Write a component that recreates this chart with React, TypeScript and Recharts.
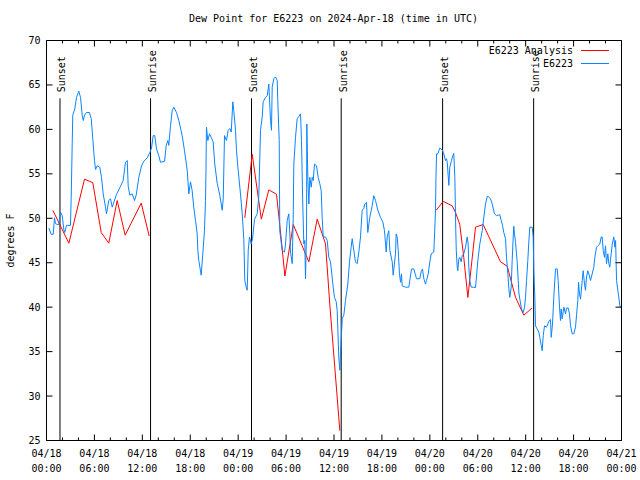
import React from "react";
import { LineChart, Line, XAxis, YAxis, ReferenceLine, Legend } from "recharts";

// hours since 04/18 00:00 UTC
const obsHours = [
  0.29, 0.59, 0.84, 1.0, 1.13, 1.34, 1.54, 1.75, 1.97, 2.17, 2.29, 2.5, 3.0, 3.09, 3.22, 3.29, 3.54, 3.76, 4.04, 4.26,
  4.47, 4.6, 4.76, 5.01, 5.38, 5.6, 5.8, 6.01, 6.14, 6.35, 6.67, 6.89, 7.1, 7.39, 7.51, 7.8, 8.01, 8.23, 8.43, 8.77,
  9.27, 9.6, 9.89, 10.11, 10.23, 10.43, 10.73, 11.02, 11.23, 11.56, 11.9, 12.18, 12.61, 12.94, 13.15, 13.36, 13.56, 13.77, 14.06, 14.27,
  14.78, 14.99, 15.19, 15.31, 15.53, 15.74, 15.94, 16.28, 16.57, 16.99, 17.28, 17.62, 17.82, 18.03, 18.24, 18.44, 18.66, 18.87, 18.95, 19.07,
  19.28, 19.37, 19.57, 19.78, 19.91, 19.97, 20.03, 20.2, 20.41, 20.62, 20.87, 21.07, 21.38, 21.7, 22.0, 22.13, 22.29, 22.54, 22.75, 22.95,
  23.13, 23.33, 23.45, 23.67, 23.79, 24.0, 24.29, 24.51, 24.71, 24.83, 25.01, 25.13, 25.26, 25.42, 25.63, 25.8, 26.05, 26.38, 26.58, 26.8,
  27.01, 27.13, 27.42, 27.64, 27.84, 28.05, 28.17, 28.26, 28.46, 28.68, 28.89, 28.96, 29.14, 29.21, 29.51, 29.8, 29.93, 30.14, 30.34, 30.47,
  30.55, 30.77, 30.89, 30.97, 31.18, 31.39, 31.59, 31.81, 31.93, 32.09, 32.22, 32.34, 32.43, 32.56, 32.6, 32.65, 32.73, 32.85, 32.97, 33.15,
  33.27, 33.4, 33.56, 33.81, 34.02, 34.22, 34.4, 34.52, 34.65, 34.94, 35.15, 35.35, 35.56, 35.9, 36.06, 36.28, 36.4, 36.6, 36.73, 36.85,
  36.94, 37.03, 37.23, 37.44, 37.73, 37.94, 38.15, 38.28, 38.48, 38.69, 38.9, 39.11, 39.32, 39.53, 39.73, 39.86, 40.07, 40.23, 40.48, 40.78,
  40.98, 41.2, 41.49, 41.82, 42.11, 42.32, 42.54, 42.66, 42.86, 42.99, 43.29, 43.41, 43.49, 43.7, 43.79, 43.91, 44.04, 44.2, 44.33, 44.45,
  44.54, 44.95, 45.37, 45.49, 45.71, 45.99, 46.21, 46.33, 46.74, 46.92, 47.08, 47.25, 47.46, 47.58, 47.8, 48.0, 48.17, 48.5, 48.62, 48.71,
  48.77, 48.84, 49.0, 49.25, 49.55, 49.75, 49.96, 50.09, 50.18, 50.25, 50.38, 50.5, 50.71, 50.88, 51.0, 51.13, 51.25, 51.31, 51.43, 51.5,
  51.63, 51.75, 51.93, 52.05, 52.25, 52.47, 52.68, 52.8, 52.88, 53.0, 53.18, 53.43, 53.72, 53.84, 54.01, 54.26, 54.56, 54.76, 54.97, 55.19,
  55.31, 55.6, 55.81, 56.1, 56.35, 56.76, 56.94, 57.1, 57.26, 57.48, 57.6, 57.77, 57.89, 58.01, 58.19, 58.31, 58.44, 58.51, 58.6, 58.73,
  58.85, 58.94, 59.07, 59.14, 59.27, 59.44, 59.57, 59.69, 59.86, 59.98, 60.11, 60.27, 60.39, 60.52, 60.82, 60.94, 61.02, 61.15, 61.23, 61.44,
  61.65, 61.77, 61.95, 62.07, 62.2, 62.36, 62.61, 62.77, 62.95, 63.11, 63.2, 63.36, 63.52, 63.74, 63.95, 64.07, 64.24, 64.36, 64.45, 64.57,
  64.78, 64.99, 65.11, 65.33, 65.49, 65.62, 65.83, 66.03, 66.24, 66.37, 66.53, 66.62, 66.74, 66.87, 67.08, 67.2, 67.37, 67.49, 67.62, 67.78,
  67.96, 68.12, 68.33, 68.53, 68.66, 68.87, 69.03, 69.28, 69.46, 69.58, 69.71, 69.87, 70.0, 70.12, 70.29, 70.41, 70.54, 70.63, 70.84, 71.04,
  71.17, 71.26, 71.38, 71.54, 71.66, 71.79, 71.87,
];
const obsDew = [
  48.9, 48.2, 48.2, 50.05, 49.4, 49.3, 49.3, 50.7, 50.3, 48.7, 48.4, 49.2, 49.2, 52.2, 58.4, 61.6, 62.3, 63.6, 64.3, 63.6,
  61.6, 61.0, 61.6, 61.9, 61.9, 61.2, 58.9, 56.5, 55.5, 55.9, 55.75, 54.6, 52.75, 51.25, 50.5, 52.0, 52.2, 51.25, 51.8, 52.7,
  53.6, 54.25, 56.3, 56.5, 53.6, 52.6, 52.75, 52.0, 52.6, 54.6, 55.9, 56.4, 56.8, 57.4, 57.9, 59.3, 59.3, 57.8, 57.05, 56.3,
  56.4, 58.2, 58.75, 58.2, 60.4, 62.1, 62.5, 61.9, 61.0, 59.3, 57.6, 55.4, 52.75, 54.1, 53.1, 51.25, 49.75, 48.25, 46.4, 45.25,
  44.1, 43.6, 46.0, 48.6, 52.0, 55.4, 60.25, 58.75, 59.5, 59.1, 58.6, 56.1, 53.9, 52.6, 50.9, 52.2, 59.3, 58.75, 59.9, 60.1,
  59.7, 63.1, 62.1, 59.9, 57.6, 55.4, 52.75, 50.5, 47.6, 43.0, 42.25, 41.9, 46.4, 47.9, 47.1, 47.7, 49.9, 50.5, 52.4, 59.9,
  61.4, 63.1, 63.6, 63.8, 65.1, 61.0, 59.9, 64.75, 65.7, 65.9, 65.5, 63.25, 58.75, 48.6, 46.4, 46.2, 47.1, 49.75, 50.5, 48.25,
  46.2, 44.9, 50.0, 56.1, 59.1, 61.2, 61.45, 61.75, 58.75, 51.6, 47.1, 47.5, 43.2, 48.25, 60.6, 58.0, 54.25, 51.6, 54.6, 53.5,
  54.6, 54.25, 56.1, 55.9, 54.6, 53.9, 53.1, 50.1, 47.9, 47.9, 47.5, 45.6, 45.1, 42.25, 41.1, 40.6, 39.6, 34.4, 32.9, 35.5,
  37.0, 38.7, 39.1, 40.75, 42.6, 45.1, 46.75, 47.7, 46.4, 45.1, 44.9, 46.2, 47.9, 50.9, 51.1, 51.6, 51.8, 48.4, 50.1, 51.4,
  52.55, 52.0, 50.9, 50.1, 49.6, 48.6, 46.2, 47.9, 48.6, 46.4, 45.1, 43.6, 44.3, 46.0, 48.25, 47.9, 46.4, 43.75, 42.8, 43.75,
  42.4, 42.25, 42.25, 43.0, 44.3, 44.3, 43.6, 43.2, 43.2, 44.0, 44.3, 43.2, 42.6, 43.0, 43.75, 45.1, 46.0, 46.2, 48.8, 50.9,
  54.6, 57.25, 57.25, 57.9, 57.7, 57.25, 56.5, 56.7, 56.3, 55.4, 53.7, 55.75, 56.5, 57.05, 57.3, 54.6, 48.6, 46.4, 44.5, 44.1,
  45.4, 45.6, 45.1, 45.8, 46.0, 46.75, 47.9, 47.1, 44.5, 43.0, 42.25, 42.25, 42.2, 43.4, 45.25, 47.1, 48.6, 50.1, 51.6, 52.45,
  52.45, 52.2, 51.6, 50.5, 50.3, 50.4, 49.75, 49.2, 48.4, 47.7, 45.6, 43.75, 42.1, 41.1, 42.25, 45.25, 47.9, 49.1, 48.25, 47.3,
  46.0, 45.1, 43.0, 41.7, 40.9, 40.0, 39.6, 39.4, 40.0, 41.1, 43.0, 45.25, 47.3, 49.0, 49.0, 47.9, 44.0, 41.1, 37.9, 37.55,
  37.2, 36.6, 35.7, 35.1, 36.8, 37.9, 37.75, 38.1, 38.5, 38.6, 36.6, 38.1, 41.1, 44.3, 44.3, 43.0, 40.0, 38.5, 39.8, 38.7,
  40.0, 39.25, 39.9, 39.9, 39.25, 37.9, 37.0, 37.0, 37.75, 39.1, 40.75, 42.8, 41.5, 40.9, 43.0, 44.1, 42.6, 41.9, 43.4, 44.1,
  43.6, 43.0, 43.75, 44.5, 45.6, 46.75, 46.9, 47.1, 47.9, 47.9, 46.4, 45.6, 46.9, 44.9, 46.0, 44.9, 44.5, 45.4, 47.1, 47.9,
  46.75, 47.5, 43.0, 41.9, 41.1, 40.2, 40.0,
];

const anaHours = [
  0.79, 2.8, 4.76, 5.8, 6.85, 7.8, 8.85, 9.85, 11.86, 12.86, 18,
  24.83, 25.76, 26.9, 27.84, 28.8, 29.4, 29.85, 30.9, 32.85, 33.9, 34.94, 35.5, 36.73, 42,
  48.8, 49.67, 50.8, 51.2, 51.75, 52.25, 52.76, 53.18, 53.72, 54.68, 56.85, 57.7, 57.9, 58.73, 59.77, 60.8,
];
const anaDew = [
  50.9, 47.2, 54.4, 54.0, 48.4, 47.2, 52.0, 48.1, 51.7, 48.0, null,
  50.05, 57.2, 49.9, 53.2, 52.7, 47.6, 43.5, 49.3, 45.1, 49.9, 47.1, 40.0, 26.1, null,
  50.9, 51.9, 51.4, 50.7, 49.3, 45.6, 41.1, 44.5, 49.0, 49.3, 45.1, 44.6, 43.9, 41.1, 39.1, 39.9,
];

const sunHours = [1.69, 13.03, 25.67, 36.9, 49.6, 61.0];
const sunEvents = ["Sunset", "Sunrise", "Sunset", "Sunrise", "Sunset", "Sunrise"];

const seriesNames = ["E6223 Analysis", "E6223"];

const xTicks = Array.from({ length: 37 }, (_, i) => i * 2);
const tickDates = ["04/18", "04/18", "04/18", "04/18", "04/19", "04/19", "04/19", "04/19", "04/20", "04/20", "04/20", "04/20", "04/21"];
const tickTimes = ["00:00", "06:00", "12:00", "18:00", "00:00", "06:00", "12:00", "18:00", "00:00", "06:00", "12:00", "18:00", "00:00"];
const yTicks = [25, 30, 35, 40, 45, 50, 55, 60, 65, 70];

const FONT = "'DejaVu Sans Mono', monospace";
const RED = "#ff0000";
const BLUE = "#0a84ff";

const obsData = obsHours.map((t, i) => ({ t, v: obsDew[i] }));
const anaData = anaHours.map((t, i) => ({ t, v: anaDew[i] }));

function BottomTick({ x, y, payload }: any) {
  const t = payload.value;
  const major = t % 6 === 0;
  const i = t / 6;
  return (
    <g>
      <line x1={x} x2={x} y1={y} y2={y - (major ? 6 : 3)} stroke="#000" />
      {major && (
        <text x={x} y={y + 16.5} textAnchor="middle" fontSize={10} fontFamily={FONT} fill="#000">
          {tickDates[i]}
        </text>
      )}
      {major && (
        <text x={x} y={y + 31.5} textAnchor="middle" fontSize={10} fontFamily={FONT} fill="#000">
          {tickTimes[i]}
        </text>
      )}
    </g>
  );
}

function TopTick({ x, y, payload }: any) {
  const major = payload.value % 6 === 0;
  return <line x1={x} x2={x} y1={y} y2={y + (major ? 6 : 3)} stroke="#000" />;
}

function LeftTick({ x, y, payload }: any) {
  return (
    <g>
      <line x1={x} x2={x + 6} y1={y} y2={y} stroke="#000" />
      <text x={x - 6} y={y} textAnchor="end" dominantBaseline="central" fontSize={10} fontFamily={FONT} fill="#000">
        {payload.value}
      </text>
    </g>
  );
}

function RightTick({ x, y }: any) {
  return <line x1={x} x2={x - 6} y1={y} y2={y} stroke="#000" />;
}

function sunLabel(text: string) {
  return (props: any) => {
    const vb = props.viewBox || {};
    const lx = vb.x + 2;
    const ly = vb.y - 6;
    return (
      <text
        x={lx}
        y={ly}
        transform={`rotate(-90 ${lx} ${ly})`}
        textAnchor="start"
        dominantBaseline="central"
        fontSize={10}
        fontFamily={FONT}
        fill="#000"
      >
        {text}
      </text>
    );
  };
}

function renderLegend(props: any) {
  const items = [...(props.payload || [])].sort(
    (a: any, b: any) => seriesNames.indexOf(a.value) - seriesNames.indexOf(b.value)
  );
  return (
    <svg width={160} height={28}>
      {items.map((it: any, i: number) => (
        <g key={i}>
          <text x={122} y={7 + i * 13} textAnchor="end" dominantBaseline="central" fontSize={10} fontFamily={FONT} fill="#000">
            {it.value}
          </text>
          <line x1={130} x2={158} y1={7.5 + i * 13} y2={7.5 + i * 13} stroke={it.color} strokeWidth={1} />
        </g>
      ))}
    </svg>
  );
}

export default function App() {
  return (
    <div style={{ position: "absolute", left: 0, top: 0, width: 640, height: 480, background: "#fff" }}>
      <div
        style={{
          position: "absolute",
          left: 46,
          top: 13,
          width: 575,
          height: 12,
          lineHeight: "12px",
          textAlign: "center",
          fontFamily: FONT,
          fontSize: 10,
          color: "#000",
          whiteSpace: "pre",
        }}
      >
        Dew Point for E6223 on 2024-Apr-18 (time in UTC)
      </div>
      <LineChart width={640} height={480} margin={{ top: 0, right: 0, bottom: 0, left: 0 }}>
        <XAxis
          dataKey="t"
          type="number"
          domain={[0, 72]}
          ticks={xTicks}
          interval={0}
          allowDataOverflow
          height={39.5}
          tickSize={0}
          tickMargin={0}
          tickLine={false}
          axisLine={{ stroke: "#000" }}
          tick={<BottomTick />}
        />
        <XAxis
          xAxisId="top"
          orientation="top"
          dataKey="t"
          type="number"
          domain={[0, 72]}
          ticks={xTicks}
          interval={0}
          allowDataOverflow
          height={40.5}
          tickSize={0}
          tickMargin={0}
          tickLine={false}
          axisLine={{ stroke: "#000" }}
          tick={<TopTick />}
        />
        <YAxis
          type="number"
          domain={[25, 70]}
          ticks={yTicks}
          interval={0}
          allowDataOverflow
          width={46.5}
          tickSize={0}
          tickMargin={0}
          tickLine={false}
          axisLine={{ stroke: "#000" }}
          tick={<LeftTick />}
          label={(props: any) => {
            const vb = props.viewBox || {};
            const lx = 10;
            const ly = vb.y + vb.height / 2;
            return (
              <text
                x={lx}
                y={ly}
                transform={`rotate(-90 ${lx} ${ly})`}
                textAnchor="middle"
                dominantBaseline="central"
                fontSize={10}
                fontFamily={FONT}
                fill="#000"
              >
                degrees F
              </text>
            );
          }}
        />
        <YAxis
          yAxisId="right"
          orientation="right"
          type="number"
          domain={[25, 70]}
          ticks={yTicks}
          interval={0}
          allowDataOverflow
          width={18.5}
          tickSize={0}
          tickMargin={0}
          tickLine={false}
          axisLine={{ stroke: "#000" }}
          tick={<RightTick />}
        />
        {sunHours.map((h, i) => (
          <ReferenceLine
            key={i}
            segment={[
              { x: h, y: 25 },
              { x: h, y: 63.5 },
            ]}
            stroke="#000"
            strokeWidth={1}
            label={sunLabel(sunEvents[i])}
          />
        ))}
        <Line
          data={anaData}
          dataKey="v"
          name={seriesNames[0]}
          stroke={RED}
          strokeWidth={1}
          dot={false}
          activeDot={false}
          type="linear"
          isAnimationActive={false}
        />
        <Line
          data={obsData}
          dataKey="v"
          name={seriesNames[1]}
          stroke={BLUE}
          strokeWidth={1}
          dot={false}
          activeDot={false}
          type="linear"
          isAnimationActive={false}
        />
        <Legend
          layout="vertical"
          align="center"
          verticalAlign="middle"
          content={renderLegend}
          wrapperStyle={{ left: 451, top: 43, width: 160, height: 28 }}
        />
      </LineChart>
    </div>
  );
}
